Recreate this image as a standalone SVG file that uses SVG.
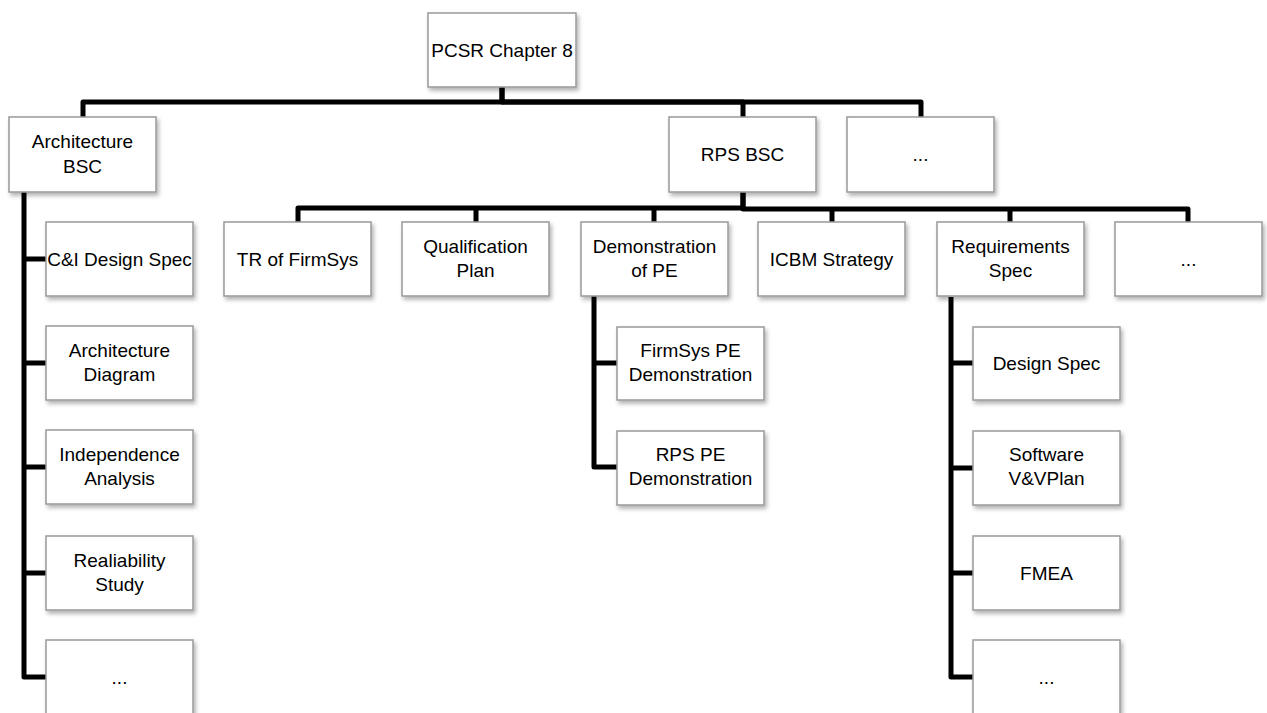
<svg xmlns="http://www.w3.org/2000/svg" width="1267" height="713" viewBox="0 0 1267 713">
<defs>
<filter id="sh" x="-10%" y="-10%" width="125%" height="130%">
<feDropShadow dx="2" dy="3" stdDeviation="2" flood-color="#000" flood-opacity="0.3"/>
</filter>
</defs>
<style>
.box{fill:#fff;stroke:#999;stroke-width:1.5;filter:url(#sh)}
.t{font-family:"Liberation Sans",Arial,sans-serif;font-size:19px;fill:#000;text-anchor:middle}
.c{fill:none;stroke:#000;stroke-width:5;stroke-linejoin:round;stroke-linecap:butt}
</style>
<rect width="1267" height="713" fill="#fff"/>
<g id="connectors">
<path class="c" d="M502,87 V102 H83 V117"/>
<path class="c" d="M502,87 V102 H921 V117"/>
<path class="c" d="M502,102 H743 V117"/>
<path class="c" d="M24,192 V677 H46"/>
<path class="c" d="M24,259 H46 M24,363 H46 M24,467 H46 M24,573 H46"/>
<path class="c" d="M743,192 V208 H298 V222"/>
<path class="c" d="M476,208 V222 M654,208 V222"/>
<path class="c" d="M743,192 V209 H1188 V222"/>
<path class="c" d="M832,209 V222 M1010,209 V222"/>
<path class="c" d="M594,296 V467 H617 M594,363 H617"/>
<path class="c" d="M951,297 V677 H973 M951,363 H973 M951,468 H973 M951,573 H973"/>
</g>
<g id="root"><rect class="box" x="428" y="13" width="148" height="74"/><text class="t" x="502" y="57">PCSR Chapter 8</text></g>
<g id="archBSC"><rect class="box" x="9" y="117" width="147" height="75"/><text class="t" x="82.5" y="148">Architecture</text><text class="t" x="82.5" y="173">BSC</text></g>
<g id="rpsBSC"><rect class="box" x="669" y="117" width="147" height="75"/><text class="t" x="742.5" y="161">RPS BSC</text></g>
<g id="more1"><rect class="box" x="847" y="117" width="147" height="75"/><text class="t" x="920.5" y="161">...</text></g>
<g id="ciDesign"><rect class="box" x="46" y="222" width="147" height="74"/><text class="t" x="119.5" y="266">C&amp;I Design Spec</text></g>
<g id="archDiagram"><rect class="box" x="46" y="326" width="147" height="74"/><text class="t" x="119.5" y="357">Architecture</text><text class="t" x="119.5" y="381">Diagram</text></g>
<g id="independence"><rect class="box" x="46" y="430" width="147" height="74"/><text class="t" x="119.5" y="461">Independence</text><text class="t" x="119.5" y="485">Analysis</text></g>
<g id="reliability"><rect class="box" x="46" y="536" width="147" height="74"/><text class="t" x="119.5" y="567">Realiability</text><text class="t" x="119.5" y="591">Study</text></g>
<g id="more2"><rect class="box" x="46" y="640" width="147" height="74"/><text class="t" x="119.5" y="684">...</text></g>
<g id="trFirmSys"><rect class="box" x="224" y="222" width="147" height="74"/><text class="t" x="297.5" y="266">TR of FirmSys</text></g>
<g id="qualPlan"><rect class="box" x="402" y="222" width="147" height="74"/><text class="t" x="475.5" y="253">Qualification</text><text class="t" x="475.5" y="277">Plan</text></g>
<g id="demoPE"><rect class="box" x="581" y="222" width="147" height="74"/><text class="t" x="654.5" y="253">Demonstration</text><text class="t" x="654.5" y="277">of PE</text></g>
<g id="icbm"><rect class="box" x="758" y="222" width="147" height="74"/><text class="t" x="831.5" y="266">ICBM Strategy</text></g>
<g id="reqSpec"><rect class="box" x="937" y="222" width="147" height="74"/><text class="t" x="1010.5" y="253">Requirements</text><text class="t" x="1010.5" y="277">Spec</text></g>
<g id="more3"><rect class="box" x="1115" y="222" width="147" height="74"/><text class="t" x="1188.5" y="266">...</text></g>
<g id="firmsysPE"><rect class="box" x="617" y="327" width="147" height="73"/><text class="t" x="690.5" y="357">FirmSys PE</text><text class="t" x="690.5" y="381">Demonstration</text></g>
<g id="rpsPE"><rect class="box" x="617" y="431" width="147" height="74"/><text class="t" x="690.5" y="461">RPS PE</text><text class="t" x="690.5" y="485">Demonstration</text></g>
<g id="designSpec"><rect class="box" x="973" y="327" width="147" height="73"/><text class="t" x="1046.5" y="370">Design Spec</text></g>
<g id="software"><rect class="box" x="973" y="431" width="147" height="74"/><text class="t" x="1046.5" y="461">Software</text><text class="t" x="1046.5" y="485">V&amp;VPlan</text></g>
<g id="fmea"><rect class="box" x="973" y="536" width="147" height="74"/><text class="t" x="1046.5" y="580">FMEA</text></g>
<g id="more4"><rect class="box" x="973" y="640" width="147" height="74"/><text class="t" x="1046.5" y="684">...</text></g>
</svg>
